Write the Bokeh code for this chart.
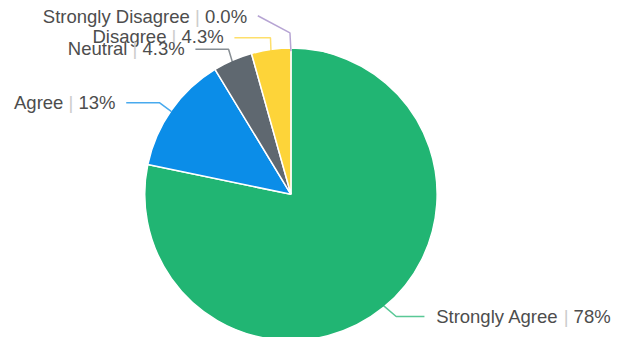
from math import pi, sin, cos
from bokeh.plotting import figure
from bokeh.models import Range1d, ColumnDataSource
from bokeh.embed import file_html
from bokeh.resources import INLINE
from bokeh.core.properties import value

# ---- data ----
categories = ["Strongly Agree", "Agree", "Neutral", "Disagree", "Strongly Disagree"]
counts = [18, 3, 1, 1, 0]
pct_labels = ["78%", "13%", "4.3%", "4.3%", "0.0%"]
colors = ["#21B573", "#0B8DE8", "#5F6870", "#FDD439", "#9E85C4"]

# ---- layout (reference-pixel positions, mapped onto the figure) ----
RW, RH = 630, 353
W, H = 614, 337
SX = W / RW
CX, CY, R = 298, 203, 150
elbows = [(406, 331), (163, 107), (234, 51), (277, 39), (297, 34)]
line_ends = [(435, 331), (129, 107), (200, 51), (240, 39), (264, 16)]
label_y = [330.5, 107, 50, 37.5, 17]
label_side = ["right", "left", "left", "left", "left"]
FONT = "Liberation Sans"
FS = 18.5
TEXT_COLOR = "#4d4d4d"
BAR_COLOR = "#cccccc"

AW = {" ": 278, "|": 260, ".": 278, "%": 889, "S": 667, "t": 278, "r": 333, "o": 556,
      "n": 556, "g": 556, "l": 222, "y": 500, "D": 722, "i": 222, "s": 500, "a": 556,
      "e": 556, "N": 722, "u": 556, "A": 667}


def tw(s):
    # text width in data units
    return sum(AW.get(c, 556) for c in s) * FS / 1000.0 / SX


p = figure(width=W, height=H, x_range=Range1d(0, RW), y_range=Range1d(-RH, 0),
           output_backend="svg", toolbar_location=None, min_border=0,
           x_axis_location=None, y_axis_location=None, tools="")
p.grid.visible = False
p.outline_line_color = None
p.background_fill_color = "white"
p.border_fill_color = "white"

total = float(sum(counts))
fracs = [c / total for c in counts]

# wedges (clockwise from 12 o'clock)
wx, wy, ws, we, wc = [], [], [], [], []
cum = 0.0
mids = []
for f, col in zip(fracs, colors):
    a0 = pi / 2 - cum * 2 * pi
    a1 = pi / 2 - (cum + f) * 2 * pi
    mids.append(pi / 2 - (cum + f / 2) * 2 * pi)
    if f > 0:
        wx.append(CX); wy.append(-CY); ws.append(a1); we.append(a0); wc.append(col)
    cum += f

src = ColumnDataSource(dict(x=wx, y=wy, start=ws, end=we, color=wc))
p.wedge(x="x", y="y", radius=R, start_angle="start", end_angle="end", fill_color="color",
        line_color="white", line_width=1.5, source=src)

# leader lines
xs, ys = [], []
for m, el, le in zip(mids, elbows, line_ends):
    ex = CX + R * cos(m)
    ey = CY - R * sin(m)
    xs.append([ex, el[0], le[0]])
    ys.append([-ey, -el[1], -le[1]])
p.multi_line(xs=xs, ys=ys, line_color=colors, line_alpha=0.75, line_width=1.5)

# labels: name | pct
nx, ny, nt = [], [], []
bx, by = [], []
px_, py_, pt = [], [], []
for cat, pl, le, y, side in zip(categories, pct_labels, line_ends, label_y, label_side):
    if side == "right":
        x0 = le[0] + 12
        nx.append(x0); nt.append(cat)
        bx.append(x0 + tw(cat + " ") + tw("|") / 2)
        px_.append(x0 + tw(cat + " | ")); pt.append(pl)
    else:
        x1 = le[0] - 11
        px_.append(x1 - tw(pl)); pt.append(pl)
        bx.append(x1 - tw(pl) - tw(" ") - tw("|") / 2)
        nx.append(x1 - tw(pl) - tw(" | ") - tw(cat)); nt.append(cat)
    ny.append(-y); by.append(-y); py_.append(-y)

p.text(x=nx, y=ny, text=nt, text_font=value(FONT), text_font_size=f"{FS}px",
       text_color=TEXT_COLOR, text_align="left", text_baseline="middle")
p.text(x=bx, y=by, text=["|"] * len(bx), text_font=value(FONT), text_font_size=f"{FS}px",
       text_color=BAR_COLOR, text_align="center", text_baseline="middle")
p.text(x=px_, y=py_, text=pt, text_font=value(FONT), text_font_size=f"{FS}px",
       text_color=TEXT_COLOR, text_align="left", text_baseline="middle")

open("out.html", "w").write(file_html(p, INLINE))
